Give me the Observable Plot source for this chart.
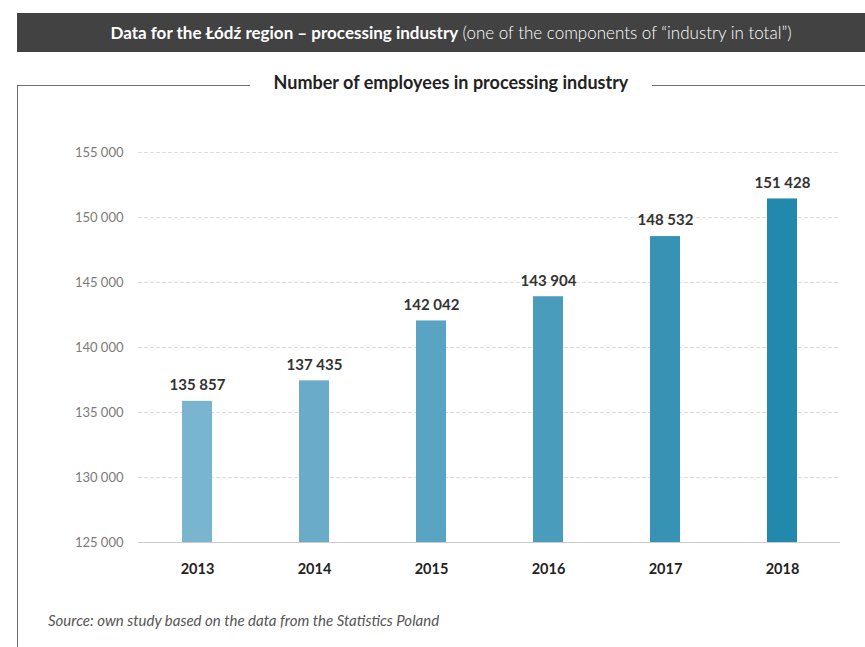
<!DOCTYPE html>
<html>
<head>
<meta charset="utf-8">
<script src="https://cdn.jsdelivr.net/npm/d3@7"></script>
<script src="https://cdn.jsdelivr.net/npm/@observablehq/plot@0.6"></script>
<style>
  html, body { margin: 0; padding: 0; background: #fff; }
  body { width: 865px; height: 647px; position: relative; overflow: hidden; font-family: Lato, "Noto Sans", sans-serif; }
  #banner { position: absolute; left: 17px; top: 13px; width: 848px; height: 39px; background: #424242; color: #fff;
            font-size: 17px; line-height: 39px; text-align: center; padding-left: 20px; box-sizing: border-box; white-space: nowrap; }
  #banner b { font-weight: 700; }
  #banner span { font-weight: 300; }
  #frame-left { position: absolute; left: 17px; top: 85px; width: 1px; height: 562px; background: #6f6f6f; }
  #rule-l { position: absolute; left: 17px; top: 85px; width: 233px; height: 1px; background: #6f6f6f; }
  #rule-r { position: absolute; left: 652px; top: 85px; width: 213px; height: 1px; background: #6f6f6f; }
  #subtitle { position: absolute; left: 250px; width: 402px; top: 71px; text-align: center; font-size: 18px; font-weight: 700; color: #222; white-space: nowrap; }
  #chart { position: absolute; left: 0; top: 130px; }
  #source { position: absolute; left: 48px; top: 611px; font-size: 15px; font-style: italic; color: #555; }
</style>
</head>
<body>
<div id="banner"><b>Data for the Łódź region – processing industry</b> <span>(one of the components of “industry in total”)</span></div>
<div id="rule-l"></div><div id="rule-r"></div><div id="frame-left"></div>
<div id="subtitle">Number of employees in processing industry</div>
<div id="chart"></div>
<div id="source">Source: own study based on the data from the Statistics Poland</div>
<script>
const years = ["2013", "2014", "2015", "2016", "2017", "2018"];
const employees = [135857, 137435, 142042, 143904, 148532, 151428];
const barColors = ["#7ab5cf", "#69abc8", "#5aa4c3", "#4a9cbd", "#3793b4", "#2389ac"];
const yTicks = [125000, 130000, 135000, 140000, 145000, 150000, 155000];

const rows = years.map((year, i) => ({year, value: employees[i], color: barColors[i]}));
const fmt = d3.formatLocale({thousands: "\u00a0", grouping: [3], decimal: ",", currency: ["", ""]}).format(",");

const chart = Plot.plot({
  width: 865,
  height: 460,
  marginLeft: 138,
  marginRight: 25,
  marginTop: 22,
  marginBottom: 48,
  style: {fontFamily: "Lato, 'Noto Sans', sans-serif", background: "transparent"},
  x: {domain: years, paddingInner: 0.745, paddingOuter: 0.3725, label: null},
  y: {domain: [125000, 155000], label: null},
  marks: [
    Plot.gridY(yTicks, {stroke: "#dddddd", strokeOpacity: 1, strokeDasharray: "4,2"}),
    Plot.axisY(yTicks, {tickSize: 0, tickPadding: 15, tickFormat: fmt, fontSize: 13, fill: "#7a7a7a", label: null}),
    Plot.barY(rows, {x: "year", y1: 125000, y2: "value", fill: "color"}),
    Plot.ruleY([125000], {stroke: "#cccccc"}),
    Plot.text(rows, {x: "year", y: "value", text: d => fmt(d.value), dy: -16, fontSize: 15, fontWeight: 700, fill: "#333"}),
    Plot.axisX({tickSize: 0, tickPadding: 21, fontSize: 14.5, fontWeight: 700, fill: "#222", label: null})
  ]
});
document.getElementById("chart").appendChild(chart);
</script>
</body>
</html>
